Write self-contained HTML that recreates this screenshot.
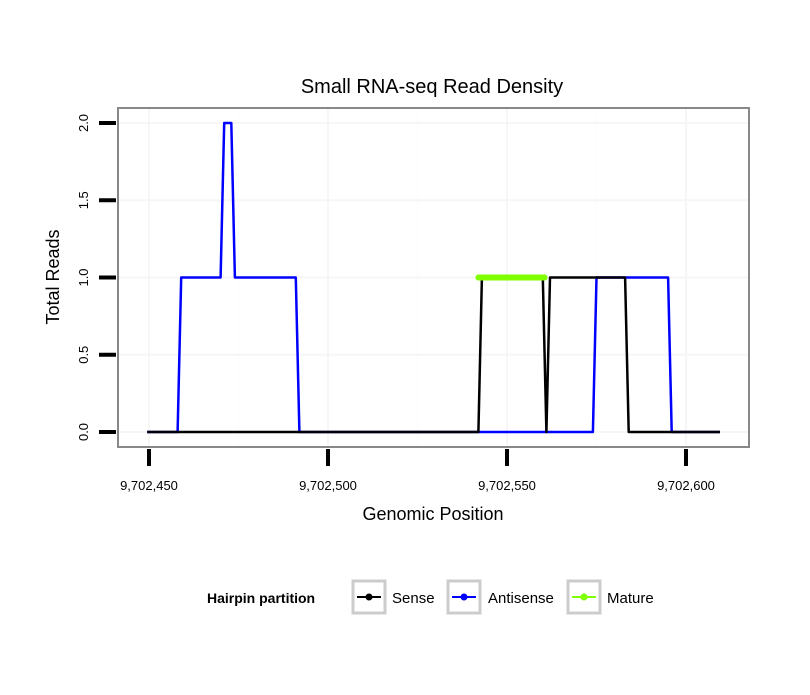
<!DOCTYPE html>
<html><head><meta charset="utf-8">
<style>
body{margin:0;background:#fff;}
svg text{font-family:"Liberation Sans",sans-serif;}
</style></head>
<body>
<svg id="chart" width="810" height="690" xmlns="http://www.w3.org/2000/svg">
<rect width="810" height="690" fill="#fff"/>
<text x="432" y="93" font-size="20" text-anchor="middle" fill="#000">Small RNA-seq Read Density</text>
<g id="grid"></g>
<g id="series"></g>
<rect x="118" y="108" width="631" height="339" fill="none" stroke="#888" stroke-width="2"/>
<g id="axes"></g>
<text x="433" y="520" font-size="18" text-anchor="middle">Genomic Position</text>
<text transform="translate(59,277) rotate(-90)" font-size="18" text-anchor="middle">Total Reads</text>
<g>
<text x="207" y="603" font-size="14" font-weight="bold">Hairpin partition</text>
<g>
<rect x="353" y="581" width="32" height="32" fill="#fff" stroke="#ccc" stroke-width="3"/>
<line x1="357" y1="597" x2="381" y2="597" stroke="#000" stroke-width="2"/><circle cx="369" cy="597" r="3.5" fill="#000"/>
<text x="392" y="603" font-size="15">Sense</text></g>
<g>
<rect x="448" y="581" width="32" height="32" fill="#fff" stroke="#ccc" stroke-width="3"/>
<line x1="452" y1="597" x2="476" y2="597" stroke="#00f" stroke-width="2"/><circle cx="464" cy="597" r="3.5" fill="#00f"/>
<text x="488" y="603" font-size="15">Antisense</text></g>
<g>
<rect x="568" y="581" width="32" height="32" fill="#fff" stroke="#ccc" stroke-width="3"/>
<line x1="572" y1="597" x2="596" y2="597" stroke="#7fff00" stroke-width="2"/><circle cx="584" cy="597" r="3.5" fill="#7fff00"/>
<text x="607" y="603" font-size="15">Mature</text></g>
</g>
</svg>
<script>
const xTicks = [9702450, 9702500, 9702550, 9702600];
const xTickLabels = ["9,702,450", "9,702,500", "9,702,550", "9,702,600"];
const yTicks = [0, 0.5, 1, 1.5, 2];
const yTickLabels = ["0.0", "0.5", "1.0", "1.5", "2.0"];
const antisensePos = [9702449.5, 9702458, 9702459, 9702470, 9702471, 9702473, 9702474, 9702491, 9702492, 9702574, 9702575, 9702595, 9702596, 9702609.5];
const antisenseVal = [0, 0, 1, 1, 2, 2, 1, 1, 0, 0, 1, 1, 0, 0];
const sensePos = [9702449.5, 9702542, 9702543, 9702560, 9702561, 9702562, 9702583, 9702584, 9702609.5];
const senseVal = [0, 0, 1, 1, 0, 1, 1, 0, 0];
const maturePos = [9702542, 9702560.5];
const matureVal = [1, 1];

const X = v => 149 + (v - 9702450) * 179 / 50;
const Y = v => 432 - v * 154.5;
const NS = "http://www.w3.org/2000/svg";
function mk(tag, attrs, parent){const e=document.createElementNS(NS,tag);for(const k in attrs)e.setAttribute(k,attrs[k]);parent.appendChild(e);return e;}
const grid=document.getElementById('grid'), axes=document.getElementById('axes'), series=document.getElementById('series');
for(let i=0;i<xTicks.length;i++){
  const g=mk('line',{x1:X(xTicks[i]),x2:X(xTicks[i]),y1:108,y2:447,stroke:'#f6f6f6','stroke-width':2},grid);
  
  
  if(i<xTicks.length-1){
    const m=(xTicks[i]+xTicks[i+1])/2;
    mk('line',{x1:X(m),x2:X(m),y1:108,y2:447,stroke:'#fbfbfb','stroke-width':1},grid);
  }
}
for(let i=0;i<yTicks.length;i++){
  const g=mk('line',{x1:118,x2:749,y1:Y(yTicks[i]),y2:Y(yTicks[i]),stroke:'#f6f6f6','stroke-width':2},grid);
  
  
}
for(let i=0;i<xTicks.length;i++){
  const t=mk('line',{x1:X(xTicks[i]),x2:X(xTicks[i]),y1:449,y2:466,stroke:'#000','stroke-width':4},axes);
  
  
  const l=mk('text',{x:X(xTicks[i]),y:490,'font-size':13,'text-anchor':'middle'},axes);
  l.textContent=xTickLabels[i];
  
  
}
for(let i=0;i<yTicks.length;i++){
  const t=mk('line',{x1:99,x2:116,y1:Y(yTicks[i]),y2:Y(yTicks[i]),stroke:'#000','stroke-width':4},axes);
  
  
  const l=mk('text',{transform:`translate(88,${Y(yTicks[i])}) rotate(-90)`,'font-size':13,'text-anchor':'middle'},axes);
  l.textContent=yTickLabels[i];
  
  
}
function line(pos,val,color,w,name,cap){
  const d=pos.map((p,i)=>(i?'L':'M')+X(p).toFixed(1)+','+Y(val[i]).toFixed(1)).join('');
  const e=mk('path',{d:d,fill:'none',stroke:color,'stroke-width':w,'stroke-linejoin':'round','stroke-linecap':cap||'butt'},series);
  
  
}
line(antisensePos,antisenseVal,'#0000ff',2.5,'antisense-line');
line(sensePos,senseVal,'#000000',2.5,'sense-line');
line(maturePos,matureVal,'#7fff00',6,'mature-line','round');
</script>
</body></html>
